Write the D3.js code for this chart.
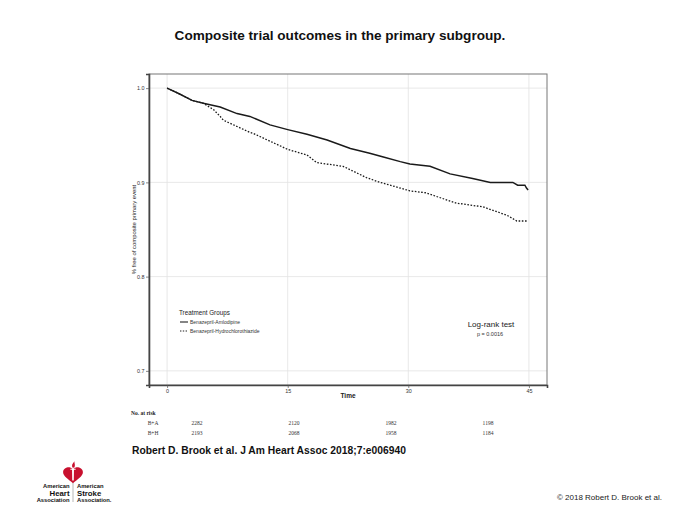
<!DOCTYPE html>
<html><head><meta charset="utf-8">
<script src="https://cdn.jsdelivr.net/npm/d3@7"></script>
<style>body{margin:0;background:#fff}svg{display:block}</style>
</head><body>
<script>
// ---- data ----
const timeBA = [0, 1.5, 3.1, 4.5, 6.6, 8.7, 10.3, 12.8, 15.0, 17.4, 19.9, 22.8, 25.2, 26.9, 29.0, 30.2, 32.7, 35.2, 38.0, 40.2, 43.0, 43.6, 44.5, 44.7, 44.9];
const survBA = [1.0, 0.994, 0.987, 0.984, 0.980, 0.973, 0.970, 0.961, 0.956, 0.951, 0.945, 0.936, 0.931, 0.927, 0.922, 0.9195, 0.917, 0.909, 0.904, 0.900, 0.900, 0.897, 0.897, 0.894, 0.892];
const timeBH = [0, 1.5, 3.1, 4.5, 5.8, 6.6, 7.0, 10.3, 10.7, 15.0, 17.4, 18.6, 21.9, 23.6, 24.8, 26.5, 29.0, 30.2, 32.1, 36.0, 39.3, 42.3, 43.5, 44.9];
const survBH = [1.0, 0.994, 0.987, 0.984, 0.977, 0.970, 0.966, 0.953, 0.952, 0.935, 0.929, 0.921, 0.917, 0.910, 0.905, 0.900, 0.894, 0.891, 0.889, 0.878, 0.874, 0.865, 0.859, 0.859];
const xTicks = [0, 15, 30, 45];
const yTicks = [0.7, 0.8, 0.9, 1.0];
const yTickLabels = ["0.7", "0.8", "0.9", "1.0"];
const riskTimes = [0, 15, 30, 45];
const riskGroups = ["B+A", "B+H"];
const riskBA = [2282, 2120, 1982, 1198];
const riskBH = [2193, 2068, 1958, 1184];
const groupNames = ["Benazepril-Amlodipine", "Benazepril-Hydrochlorothiazide"];

const W = 680, H = 510;
const svg = d3.select("body").append("svg").attr("width", W).attr("height", H);
svg.append("rect").attr("width", W).attr("height", H).attr("fill", "#fff");
const sans = "'Liberation Sans', Arial, sans-serif";
const serif = "'Liberation Serif', 'Times New Roman', serif";

// title
svg.append("text").attr("x", 340).attr("y", 40).attr("text-anchor", "middle")
  .attr("font-family", sans).attr("font-weight", "bold").attr("font-size", 13.6)
  .attr("fill", "#111").text("Composite trial outcomes in the primary subgroup.");

// scales
const x = d3.scaleLinear().domain([-2.25, 47.25]).range([149, 547]);
const y = d3.scaleLinear().domain([0.685, 1.015]).range([385, 74]);

// grid
const g = svg.append("g");
g.selectAll(".vg").data(xTicks).join("line")
  .attr("x1", d => x(d)).attr("x2", d => x(d)).attr("y1", 74).attr("y2", 385)
  .attr("stroke", "#e2e2e2").attr("stroke-width", 0.8);
g.selectAll(".hg").data(yTicks).join("line")
  .attr("y1", d => y(d)).attr("y2", d => y(d)).attr("x1", 149).attr("x2", 547)
  .attr("stroke", "#e2e2e2").attr("stroke-width", 0.8);

// frame
g.append("rect").attr("x", 149).attr("y", 74).attr("width", 398).attr("height", 311)
  .attr("fill", "none").attr("stroke", "#777").attr("stroke-width", 1);

// axes
const xAxis = d3.axisBottom(x).tickValues(xTicks).tickSize(3).tickPadding(1.5).tickFormat(d3.format("d"));
const yAxis = d3.axisLeft(y).tickValues(yTicks).tickSize(3).tickPadding(1.5).tickFormat((d, i) => yTickLabels[i]);
const gx = svg.append("g").attr("transform", "translate(0,385)").call(xAxis);
const gy = svg.append("g").attr("transform", "translate(149,0)").call(yAxis);
[gx, gy].forEach(a => {
  a.select(".domain").attr("stroke", "#444").attr("stroke-width", 1.6);
  a.selectAll(".tick line").attr("stroke", "#555").attr("stroke-width", 0.7);
  a.selectAll(".tick text").attr("font-family", sans).attr("font-size", 5.4).attr("fill", "#333");
});

// axis titles
svg.append("text").attr("x", x(22.5)).attr("y", 398).attr("text-anchor", "middle")
  .attr("font-family", sans).attr("font-size", 6.5).attr("font-weight", "bold").attr("fill", "#222").text("Time");
svg.append("text").attr("transform", `translate(136,${y(0.85)}) rotate(-90)`).attr("text-anchor", "middle")
  .attr("font-family", sans).attr("font-size", 5.9).attr("fill", "#222").text("% free of composite primary event");

// curves
const line = d3.line().x(d => x(d[0])).y(d => y(d[1]));
svg.append("path").datum(timeBA.map((t, i) => [t, survBA[i]]))
  .attr("d", line).attr("fill", "none").attr("stroke", "#1a1a1a").attr("stroke-width", 1.5);
svg.append("path").datum(timeBH.map((t, i) => [t, survBH[i]]))
  .attr("d", line).attr("fill", "none").attr("stroke", "#1a1a1a").attr("stroke-width", 1.3)
  .attr("stroke-dasharray", "1.6,1.6");

// legend
const lg = svg.append("g");
lg.append("text").attr("x", 179).attr("y", 315).attr("font-family", sans).attr("font-size", 6.3)
  .attr("fill", "#222").text("Treatment Groups");
groupNames.forEach((n, i) => {
  const yy = 322 + i * 9;
  lg.append("line").attr("x1", 180).attr("x2", 188).attr("y1", yy).attr("y2", yy)
    .attr("stroke", "#222").attr("stroke-width", 1.1).attr("stroke-dasharray", i ? "1.4,1.4" : null);
  lg.append("text").attr("x", 190).attr("y", yy + 1.8).attr("font-family", sans).attr("font-size", 5)
    .attr("fill", "#333").text(n);
});

// log-rank
svg.append("text").attr("x", 491).attr("y", 327).attr("text-anchor", "middle")
  .attr("font-family", sans).attr("font-size", 8).attr("fill", "#222").text("Log-rank test");
svg.append("text").attr("x", 490).attr("y", 336).attr("text-anchor", "middle")
  .attr("font-family", sans).attr("font-size", 5.5).attr("fill", "#333").text("p = 0.0016");

// risk table
const rx = d3.scaleLinear().domain([0, 45]).range([197, 488]);
svg.append("text").attr("x", 131).attr("y", 415).attr("font-family", serif).attr("font-weight", "bold")
  .attr("font-size", 5.5).attr("fill", "#222").text("No. at risk");
[riskBA, riskBH].forEach((row, i) => {
  const yy = 425 + i * 9.5;
  svg.append("text").attr("x", 153).attr("y", yy).attr("text-anchor", "middle").attr("font-family", serif)
    .attr("font-size", 5.5).attr("fill", "#333").text(riskGroups[i]);
  svg.selectAll(null).data(row).join("text")
    .attr("x", (d, j) => rx(riskTimes[j])).attr("y", yy).attr("text-anchor", "middle")
    .attr("font-family", serif).attr("font-size", 5.5).attr("fill", "#333").text(d => d);
});

// citation
svg.append("text").attr("x", 132).attr("y", 454).attr("font-family", sans).attr("font-weight", "bold")
  .attr("font-size", 10.3).attr("fill", "#111").text("Robert D. Brook et al. J Am Heart Assoc 2018;7:e006940");

// copyright
svg.append("text").attr("x", 662).attr("y", 500).attr("text-anchor", "end")
  .attr("font-family", sans).attr("font-size", 8).attr("fill", "#222").text("\u00A9 2018 Robert D. Brook et al.");

// AHA/ASA logo
const logo = svg.append("g").attr("transform", "translate(73,475) scale(1.1)");
logo.append("path")
  .attr("d", "M0,7.5 C-4,4 -9,1 -9,-2.5 C-9,-6 -5,-7.5 -2.5,-6.8 C-1.2,-6.4 -0.4,-5.6 0,-4.8 C0.4,-5.6 1.2,-6.4 2.5,-6.8 C5,-7.5 9,-6 9,-2.5 C9,1 4,4 0,7.5 Z")
  .attr("fill", "#c8102e");
logo.append("path")
  .attr("d", "M-0.9,-5.5 L0.9,-5.5 L0.7,5 L-0.7,5 Z M-2.4,-5.6 L2.4,-5.6 L2.4,-4.7 L-2.4,-4.7 Z").attr("fill", "#fff");
logo.append("path")
  .attr("d", "M-0.3,-6.6 C-1.6,-8.5 -0.6,-10.5 1.4,-12.5 C1,-10.5 2.4,-9.5 1.3,-6.8 Z").attr("fill", "#c8102e");
svg.append("line").attr("x1", 73).attr("x2", 73).attr("y1", 483).attr("y2", 502).attr("stroke", "#888").attr("stroke-width", 0.6);
const lt = (xx, yy, t, anchor, fs) => svg.append("text").attr("x", xx).attr("y", yy).attr("text-anchor", anchor)
  .attr("font-family", sans).attr("font-weight", "bold").attr("font-size", fs).attr("fill", "#111").text(t);
lt(69.5, 488, "American", "end", 5.8);
lt(69.5, 495.5, "Heart", "end", 7.8);
lt(69.5, 501.5, "Association", "end", 5.8);
lt(77, 488, "American", "start", 5.8);
lt(77, 495.5, "Stroke", "start", 7.8);
lt(77, 501.5, "Association.", "start", 5.8);
</script>
</body></html>
